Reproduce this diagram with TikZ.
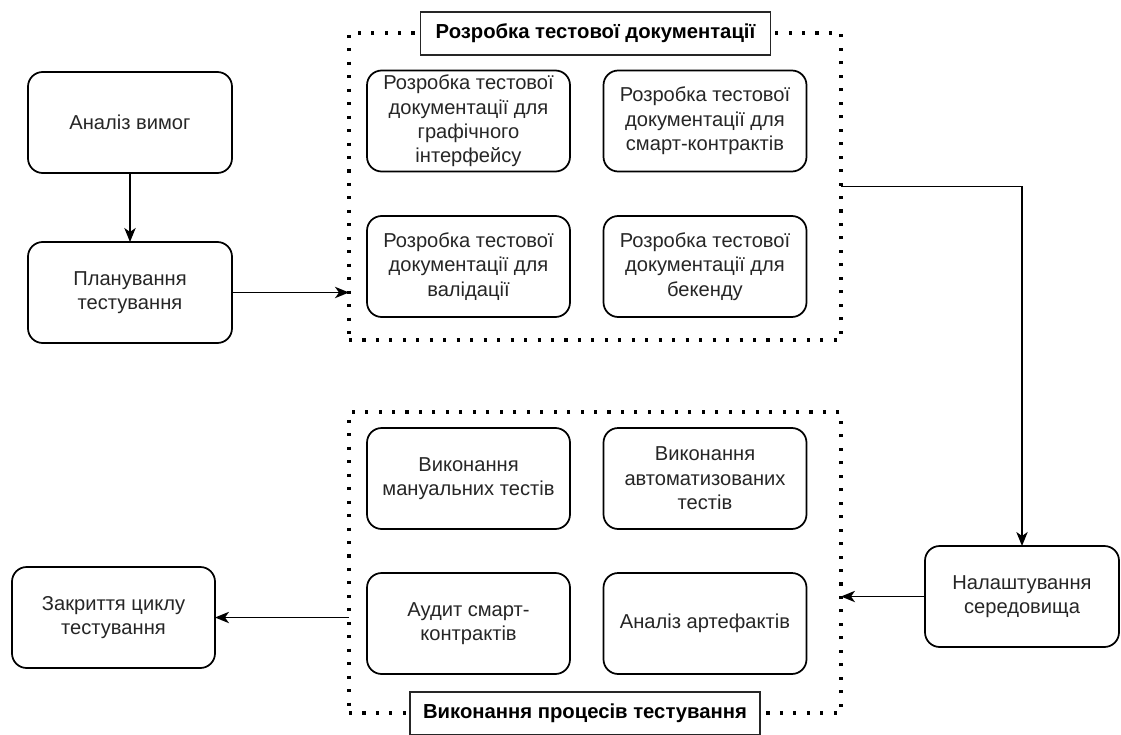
\documentclass[tikz,border=0pt]{standalone}
\usepackage{fontspec}
\setmainfont{Liberation Sans}
\usetikzlibrary{arrows.meta}
\begin{document}
\begin{tikzpicture}[x=0.75pt,y=-0.75pt,
  every node/.style={inner sep=0pt,outer sep=0pt},
  stage/.style={draw=black,line width=1.3pt,rounded corners=11pt,fill=white,
    minimum width=#1*0.75pt,minimum height=101*0.75pt,align=center,
    font=\fontsize{15.1}{18.3}\selectfont,text=black!85},
  stage/.default=203,
  group/.style={draw=black,line width=2.3pt,dash pattern=on 2.3pt off 7.8pt},
  grouptitle/.style={draw=black!85,line width=1.1pt,fill=white,
    minimum width=350*0.75pt,minimum height=43*0.75pt,
    font=\fontsize{15.2}{17}\selectfont\bfseries},
  flow/.style={line width=1.1pt,-{Stealth[length=10.5pt,width=8.5pt,inset=3pt]}}
]
\useasboundingbox (0,0) rectangle (1121,735);

% left column
\node[stage=204] (req)  at (130,122.5) {Аналіз вимог};
\node[stage=204] (plan) at (130,292.5) {Планування\\тестування};
\node[stage=203] (close) at (113.5,617.5) {Закриття циклу\\тестування};

% documentation group
\node[group,minimum width=492*0.75pt,minimum height=307*0.75pt] (docs) at (595,186.5) {};
\node[stage] (d1) at (468.5,121) {Розробка тестової\\документації для\\графічного\\інтерфейсу};
\node[stage] (d2) at (705,121) {Розробка тестової\\документації для\\смарт-контрактів};
\node[stage] (d3) at (468.5,266.5) {Розробка тестової\\документації для\\валідації};
\node[stage] (d4) at (705,266.5) {Розробка тестової\\документації для\\бекенду};
\node[grouptitle] (docst) at (595.5,33.5) {Розробка тестової документації};

% environment
\node[stage=194] (env) at (1022,596.5) {Налаштування\\середовища};

% execution group
\node[group,minimum width=492*0.75pt,minimum height=301*0.75pt] (exec) at (595,562.5) {};
\node[stage] (e1) at (468.5,478.5) {Виконання\\мануальних тестів};
\node[stage] (e2) at (705,478.5) {Виконання\\автоматизованих\\тестів};
\node[stage] (e3) at (468.5,623.5) {Аудит смарт-\\контрактів};
\node[stage] (e4) at (705,623.5) {Аналіз артефактів};
\node[grouptitle] (exect) at (585,713.5) {Виконання процесів тестування};

% connectors
\draw[flow] (req) -- (plan);
\draw[flow] (plan.east) -- (plan.east -| docs.west);
\draw[flow] (docs.east) -| (env.north);
\draw[flow] (env.west) -- (env.west -| exec.east);
\draw[flow] (close.east -| exec.west) -- (close.east);
\end{tikzpicture}
\end{document}
